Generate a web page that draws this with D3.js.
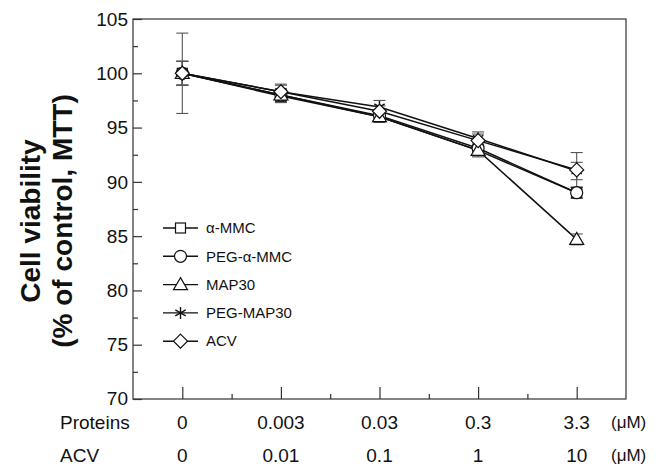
<!DOCTYPE html>
<html><head><meta charset="utf-8">
<script src="https://cdn.jsdelivr.net/npm/d3@7"></script>
<style>body{margin:0;background:#fff}svg{display:block}</style>
</head><body><svg id="c" width="658" height="473"></svg>
<script>
const proteinLabels = ["0","0.003","0.03","0.3","3.3"];
const acvLabels = ["0","0.01","0.1","1","10"];
const seriesNames = ["α-MMC","PEG-α-MMC","MAP30","PEG-MAP30","ACV"];
const aMMC = [100, 97.9, 96.0, 92.9, 89.0];
const aMMCerr = [1.1, 0.6, 0.5, 0.5, 0.5];
const pegAMMC = [100, 98.0, 96.1, 93.1, 89.0];
const pegAMMCerr = [1.1, 0.5, 0.5, 0.6, 0.5];
const map30 = [100, 98.0, 96.0, 92.9, 84.7];
const map30err = [1.1, 0.6, 0.5, 0.6, 0.5];
const pegMAP30 = [100, 98.3, 96.9, 94.0, 91.0];
const pegMAP30err = [3.7, 0.7, 0.6, 0.6, 0.8];
const acv = [100, 98.3, 96.5, 93.8, 91.1];
const acvErr = [1.1, 0.6, 0.5, 0.6, 1.6];
const yTicks = [70,75,80,85,90,95,100,105];

const series = [
  {name: seriesNames[0], v: aMMC, e: aMMCerr, m: "square"},
  {name: seriesNames[1], v: pegAMMC, e: pegAMMCerr, m: "circle"},
  {name: seriesNames[2], v: map30, e: map30err, m: "triangle"},
  {name: seriesNames[3], v: pegMAP30, e: pegMAP30err, m: "star"},
  {name: seriesNames[4], v: acv, e: acvErr, m: "diamond"}
];

const svg = d3.select("#c");
const L = 133, R = 626, T = 19, B = 399;
const x = d3.scaleLinear().domain([-0.5, 4.5]).range([L, R]);
const y = d3.scaleLinear().domain([70, 105]).range([B, T]);
const font = "Liberation Sans, Arial, sans-serif";

// frame
svg.append("rect").attr("x", L).attr("y", T).attr("width", R - L).attr("height", B - T)
  .attr("fill", "none").attr("stroke", "#333").attr("stroke-width", 1.2);

// y axis ticks inside
const yAx = svg.append("g").attr("transform", `translate(${L},0)`)
  .call(d3.axisRight(y).tickValues(yTicks).tickSize(9).tickFormat(""));
yAx.select(".domain").remove();
yAx.selectAll("line").attr("stroke", "#333").attr("stroke-width", 1.2);
const yMin = svg.append("g").attr("transform", `translate(${L},0)`)
  .call(d3.axisRight(y).tickValues(d3.range(72.5, 105, 5)).tickSize(5).tickFormat(""));
yMin.select(".domain").remove();
yMin.selectAll("line").attr("stroke", "#333").attr("stroke-width", 1.2);
svg.append("g").selectAll("text").data(yTicks).join("text")
  .attr("x", L - 5).attr("y", d => d === 70 ? y(d) - 1 : y(d)).attr("dy", "0.35em")
  .attr("text-anchor", "end").attr("font-family", font).attr("font-size", 19)
  .attr("fill", "#111").text(d => d);

// x axis ticks inside
const xAx = svg.append("g").attr("transform", `translate(0,${B})`)
  .call(d3.axisTop(x).tickValues(d3.range(5)).tickSize(12).tickFormat(""));
xAx.select(".domain").remove();
xAx.selectAll("line").attr("stroke", "#333").attr("stroke-width", 1.2);
const xMin = svg.append("g").attr("transform", `translate(0,${B})`)
  .call(d3.axisTop(x).tickValues([0.5,1.5,2.5,3.5]).tickSize(5).tickFormat(""));
xMin.select(".domain").remove();
xMin.selectAll("line").attr("stroke", "#333").attr("stroke-width", 1.2);

// category labels
const rows = [{lab: "Proteins", vals: proteinLabels, yy: 429}, {lab: "ACV", vals: acvLabels, yy: 462}];
rows.forEach(r => {
  svg.append("text").attr("x", 60).attr("y", r.yy).attr("font-family", font).attr("font-size", 19)
    .attr("fill", "#111").text(r.lab);
  svg.append("g").selectAll("text").data(r.vals).join("text")
    .attr("x", (d, i) => x(i)).attr("y", r.yy).attr("text-anchor", "middle")
    .attr("font-family", font).attr("font-size", 19).attr("fill", "#111").text(d => d);
  svg.append("text").attr("x", 611).attr("y", r.yy - 1).attr("font-family", font).attr("font-size", 17)
    .attr("fill", "#111").text("(μM)");
});

// y title
const yt = svg.append("text").attr("transform", `translate(0,${(T + B) / 2 + 12}) rotate(-90)`)
  .attr("text-anchor", "middle").attr("font-family", font).attr("font-weight", "bold")
  .attr("font-size", 28).attr("fill", "#111");
yt.append("tspan").attr("x", 0).attr("y", 40).text("Cell viability");
yt.append("tspan").attr("x", 0).attr("y", 72).text("(% of control, MTT)");

// marker drawing
function marker(g, type, cx, cy) {
  const s = 6;
  if (type === "square") g.append("rect").attr("x", cx - 5).attr("y", cy - 5).attr("width", 10).attr("height", 10)
    .attr("fill", "#fff").attr("stroke", "#111").attr("stroke-width", 1.2);
  else if (type === "circle") g.append("circle").attr("cx", cx).attr("cy", cy).attr("r", 6)
    .attr("fill", "#fff").attr("stroke", "#111").attr("stroke-width", 1.2);
  else if (type === "triangle") g.append("path")
    .attr("d", `M${cx},${cy - 7}L${cx + 7},${cy + 5}L${cx - 7},${cy + 5}Z`)
    .attr("fill", "#fff").attr("stroke", "#111").attr("stroke-width", 1.2);
  else if (type === "diamond") g.append("path")
    .attr("d", `M${cx},${cy - 7}L${cx + 7},${cy}L${cx},${cy + 7}L${cx - 7},${cy}Z`)
    .attr("fill", "#fff").attr("stroke", "#111").attr("stroke-width", 1.2);
  else if (type === "star") {
    const p = [];
    for (let k = 0; k < 3; k++) {
      const a = Math.PI / 2 + k * Math.PI / 3;
      p.push(`M${cx + s * Math.cos(a)},${cy - s * Math.sin(a)}L${cx - s * Math.cos(a)},${cy + s * Math.sin(a)}`);
    }
    g.append("path").attr("d", p.join("")).attr("stroke", "#111").attr("stroke-width", 1.4).attr("fill", "none");
  }
}

const plot = svg.append("g");
// lines
const line = d3.line().x((d, i) => x(i)).y(d => y(d));
series.forEach(s => {
  plot.append("path").datum(s.v).attr("d", line).attr("fill", "none")
    .attr("stroke", "#111").attr("stroke-width", 1.5);
});
// error bars
series.forEach(s => {
  const g = plot.append("g").attr("stroke", "#555").attr("stroke-width", 1.1);
  s.v.forEach((v, i) => {
    const cx = x(i), y1 = y(v + s.e[i]), y2 = y(v - s.e[i]);
    g.append("line").attr("x1", cx).attr("x2", cx).attr("y1", y1).attr("y2", y2);
    g.append("line").attr("x1", cx - 6).attr("x2", cx + 6).attr("y1", y1).attr("y2", y1);
    g.append("line").attr("x1", cx - 6).attr("x2", cx + 6).attr("y1", y2).attr("y2", y2);
  });
});
// markers
series.forEach(s => {
  const g = plot.append("g");
  s.v.forEach((v, i) => marker(g, s.m, x(i), y(v)));
});

// legend
const lg = svg.append("g");
series.forEach((s, i) => {
  const ly = 228 + i * 28.3;
  lg.append("line").attr("x1", 163).attr("x2", 198).attr("y1", ly).attr("y2", ly)
    .attr("stroke", "#111").attr("stroke-width", 1.4);
  marker(lg, s.m, 180.5, ly);
  lg.append("text").attr("x", 206).attr("y", ly).attr("dy", "0.35em")
    .attr("font-family", font).attr("font-size", 15).attr("fill", "#111").text(s.name);
});
</script></body></html>
